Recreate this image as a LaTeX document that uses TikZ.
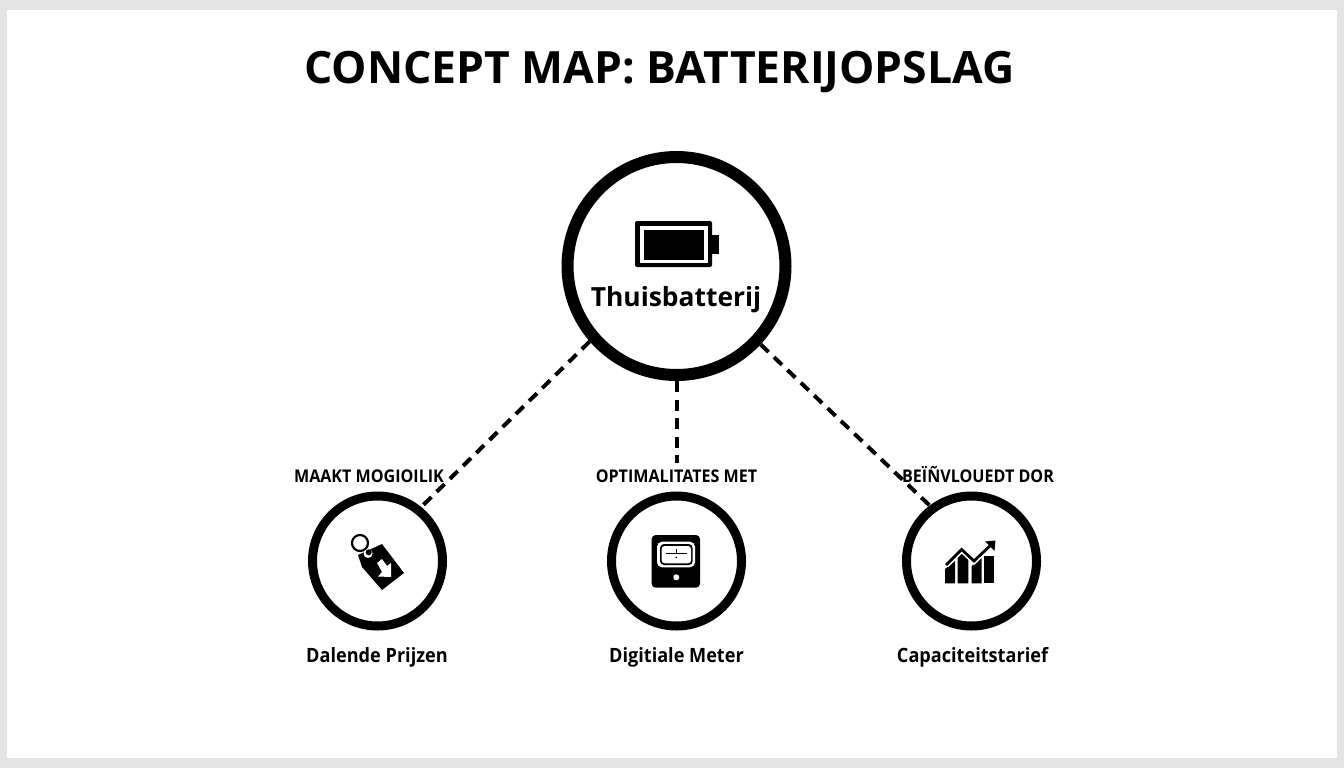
\documentclass[tikz,border=0pt]{standalone}
\usepackage{fontspec}
\setmainfont{Open Sans}
\newfontfamily\narrowsans{Open Sans}[FakeStretch=0.92]
\tikzset{
  hub/.style={circle,draw=black,line width=12pt,minimum size=218pt,inner sep=0pt,fill=white},
  spoke/.style={circle,draw=black,line width=9pt,minimum size=130pt,inner sep=0pt,fill=white},
  linkline/.style={draw=black,line width=4pt,dash pattern=on 11pt off 7.5pt},
  titletext/.style={font=\fontsize{44.5}{50}\selectfont\bfseries,inner sep=0pt},
  hubtext/.style={font=\fontsize{26.4}{30}\selectfont\bfseries,inner sep=0pt},
  reltext/.style={font=\narrowsans\fontsize{17.5}{20}\selectfont\bfseries,inner sep=0pt},
  spoketext/.style={font=\narrowsans\fontsize{19.7}{24}\selectfont\bfseries,inner sep=0pt}
}
\begin{document}
\begin{tikzpicture}[x=1pt,y=-1pt]
\useasboundingbox (0,0) rectangle (1344,768);
\fill[black!11] (0,0) rectangle (1344,768);
\fill[white] (7,10) rectangle (1337,758);
\node[titletext] (t) at (659.5,72) {CONCEPT MAP: BATTERIJOPSLAG};
\node[hub] (main) at (676.5,266) {};
\node[spoke] (a) at (377.5,561) {};
\node[spoke] (b) at (676.5,561) {};
\node[spoke] (c) at (971.5,561) {};
\node[reltext,anchor=base] (la) at (369,482) {MAAKT MOGIOILIK};
\node[reltext,anchor=base,inner sep=6pt] (lb) at (676.5,482) {OPTIMALITATES MET};
\node[reltext,anchor=base] (lc) at (978,482) {BEÏÑVLOUEDT DOR};
\draw[linkline] (main.221.5) -- (a.51);
\draw[linkline] (main.south) -- (lb.north);
\draw[linkline] (main.-43) -- (c.127.5);
\node[hubtext,anchor=base] (th) at (676,306) {Thuisbatterij};
\node[spoketext,anchor=base] (na) at (377,662) {Dalende Prijzen};
\node[spoketext,anchor=base] (nb) at (676.5,662) {Digitiale Meter};
\node[spoketext,anchor=base] (nc) at (972.5,662) {Capaciteitstarief};
% battery
\fill[black,rounded corners=2pt] (635,221) rectangle (712,267);
\fill[black] (711,235) rectangle (719,254);
\fill[white] (639.5,226) rectangle (707.5,263);
\fill[black] (643.5,229.5) rectangle (704,259.5);
% tag
\draw[black,line width=2.2pt] (360,543) circle (8);
\fill[black] (358,555) -- (382,544) -- (404,573) -- (382,590) -- (362,567) -- cycle;
\fill[white] (368,553.5) circle (4.5);
\fill[black] (368.7,552.3) circle (3);
\fill[white] (377,563) -- (382,559) -- (387,566) -- (391,563) -- (391,577) -- (378,576.5) -- (382,572) -- cycle;
% meter
\fill[black,rounded corners=4pt] (651.7,535) rectangle (700,587.7);
\fill[white,rounded corners=5pt] (657,541.7) rectangle (695,567.3);
\fill[black,rounded corners=4pt] (660,544) rectangle (692.7,565);
\fill[white,rounded corners=3pt] (661.7,546) rectangle (691,563.3);
\fill[black] (666,552.7) rectangle (687.3,554.3);
\fill[black] (675.7,549) rectangle (676.9,552.7);
\fill[black] (676.3,557.5) circle (0.9);
\fill[white] (676.3,577.3) circle (3);
% chart
\fill[black] (945,569) -- (950,565) -- (955,561) -- (955,583.3) -- (945,583.3) -- cycle;
\fill[black] (957.7,558) -- (962,553) -- (968.3,559) -- (968.3,583.3) -- (957.7,583.3) -- cycle;
\fill[black] (971.7,566) -- (981.7,557) -- (981.7,583.3) -- (971.7,583.3) -- cycle;
\fill[black] (984.3,556) -- (994.3,556) -- (994.3,583.3) -- (984.3,583.3) -- cycle;
\draw[white,line width=6pt] (946,565) -- (961.7,549.5) -- (974,561) -- (993,543);
\draw[black,line width=2.8pt] (946,565) -- (961.7,549.5) -- (974,561) -- (993,543);
\fill[black] (985,541.5) -- (995.5,540.5) -- (994.5,551) -- cycle;
\end{tikzpicture}
\end{document}
